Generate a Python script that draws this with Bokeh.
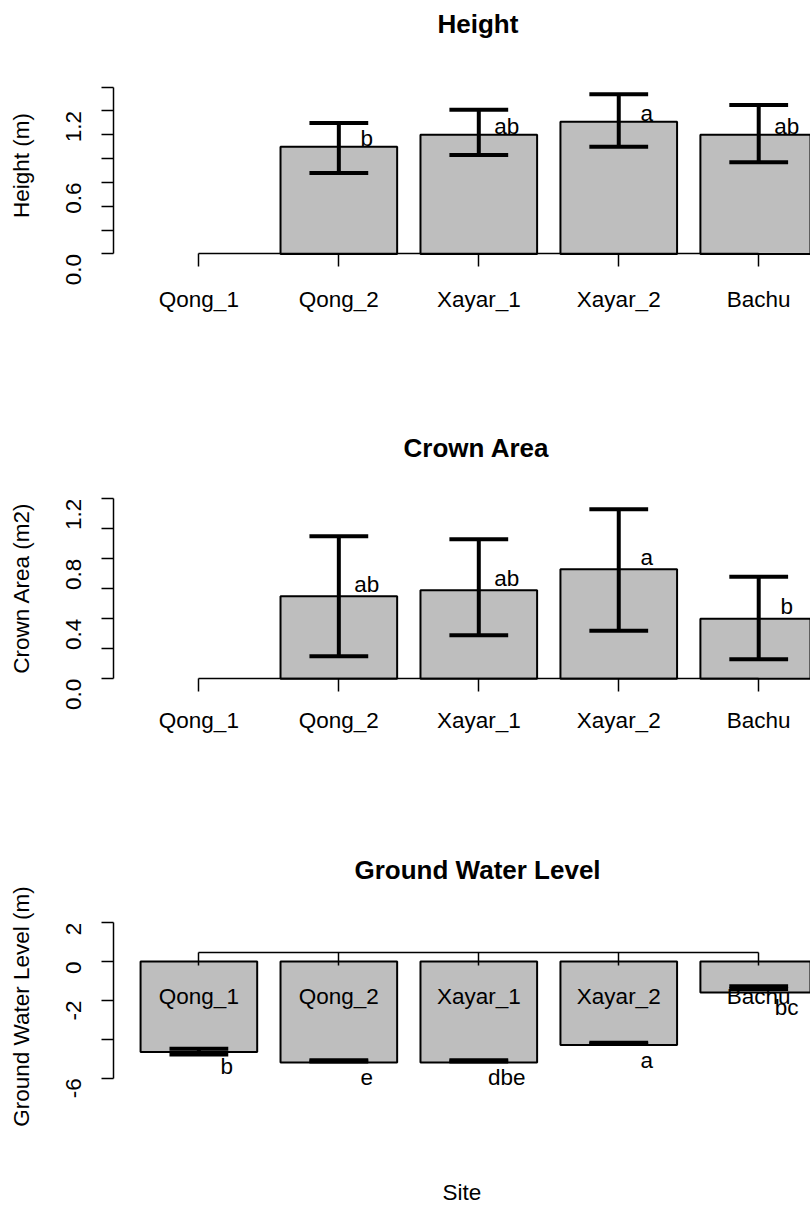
import math

from bokeh.core.properties import value
from bokeh.embed import file_html
from bokeh.layouts import column
from bokeh.models import ColumnDataSource, FixedTicker, LinearAxis, Range1d, Title
from bokeh.plotting import figure
from bokeh.resources import INLINE

# ---- data -------------------------------------------------------------
sites = ["Qong_1", "Qong_2", "Xayar_1", "Xayar_2", "Bachu"]

height_mean = [None, 0.90, 1.00, 1.11, 1.00]
height_lo = [None, 0.68, 0.83, 0.90, 0.77]
height_hi = [None, 1.10, 1.21, 1.34, 1.25]
height_grp = ["", "b", "ab", "a", "ab"]

crown_mean = [None, 0.55, 0.59, 0.73, 0.40]
crown_lo = [None, 0.15, 0.29, 0.32, 0.13]
crown_hi = [None, 0.95, 0.93, 1.13, 0.68]
crown_grp = ["", "ab", "ab", "a", "b"]

gwl_mean = [-4.65, -5.20, -5.20, -4.30, -1.60]
gwl_lo = [-4.79, -5.14, -5.14, -4.24, -1.42]
gwl_hi = [-4.49, -5.08, -5.08, -4.18, -1.28]
gwl_grp = ["b", "e", "dbe", "a", "bc"]

height_ticks = [0.0, 0.2, 0.4, 0.6, 0.8, 1.0, 1.2, 1.4]
height_tick_labels = ["0.0", "", "", "0.6", "", "", "1.2", ""]
crown_ticks = [0.0, 0.2, 0.4, 0.6, 0.8, 1.0, 1.2]
crown_tick_labels = ["0.0", "", "0.4", "", "0.8", "", "1.2"]
gwl_ticks = [-6, -4, -2, 0, 2]
gwl_tick_labels = ["-6", "", "-2", "0", "2"]

# ---- styling ----------------------------------------------------------
FONT = "Liberation Sans"
TXT = "22.5px"
TITLE_TXT = "26px"
BAR_W = 1 / 1.2          # barplot: width 1, space 0.2
CAP = 0.21               # half width of the error-bar caps
LETTER_DX = 0.2
GRAY = "#bebebe"


def style_axis(ax):
    ax.axis_line_width = 1.5
    ax.axis_line_color = "black"
    ax.major_tick_line_width = 1.5
    ax.major_tick_line_color = "black"
    ax.major_tick_in = 0
    ax.minor_tick_line_color = None
    ax.major_label_text_font = FONT
    ax.major_label_text_font_size = TXT
    ax.major_label_text_color = "black"
    ax.axis_label_text_font = FONT
    ax.axis_label_text_font_size = TXT
    ax.axis_label_text_font_style = "normal"
    ax.axis_label_text_color = "black"


def site_axis(**kw):
    pos = list(range(len(sites)))
    ax = LinearAxis(ticker=FixedTicker(ticks=pos),
                    major_label_overrides=dict(zip(pos, sites)),
                    bounds=(pos[0], pos[-1]))
    style_axis(ax)
    ax.major_tick_out = 13
    ax.major_label_standoff = 18
    for k, v in kw.items():
        setattr(ax, k, v)
    return ax


def panel(title, title_offset, ylabel, means, lo, hi, grp, yticks, ylabels,
          yr, fig_h, top, bottom, letter_dy, axis_at=0.0, names_below=True):
    p = figure(width=810, height=fig_h, x_range=Range1d(-0.61, 4.37),
               y_range=Range1d(*yr), output_backend="svg", toolbar_location=None,
               x_axis_type=None, y_axis_type=None,
               min_border_left=113, min_border_right=0,
               min_border_top=top, min_border_bottom=bottom)
    p.outline_line_color = None
    p.background_fill_color = "white"
    p.border_fill_color = "white"

    p.add_layout(Title(text=title, align="left", offset=title_offset, standoff=12,
                       text_font=FONT, text_font_size=TITLE_TXT, text_font_style="bold",
                       text_color="black"), "above")

    idx = [i for i, m in enumerate(means) if m is not None]
    m = [means[i] for i in idx]
    src = ColumnDataSource(dict(
        x=idx,
        top=[max(v, 0) for v in m],
        bottom=[min(v, 0) for v in m],
        mean=m,
        lo=[lo[i] for i in idx],
        hi=[hi[i] for i in idx],
        xl=[i - CAP for i in idx],
        xr=[i + CAP for i in idx],
        xt=[i + LETTER_DX for i in idx],
        grp=[grp[i] for i in idx],
    ))

    p.vbar(x="x", width=BAR_W, top="top", bottom="bottom", source=src,
           fill_color=GRAY, line_color="black", line_width=2)
    p.segment(x0="x", y0="lo", x1="x", y1="hi", source=src,
              line_color="black", line_width=4)
    p.segment(x0="xl", y0="lo", x1="xr", y1="lo", source=src,
              line_color="black", line_width=4)
    p.segment(x0="xl", y0="hi", x1="xr", y1="hi", source=src,
              line_color="black", line_width=4)
    p.text(x="xt", y="mean", text="grp", source=src, text_align="center",
           text_baseline="alphabetic", y_offset=letter_dy,
           text_font=value(FONT), text_font_size=TXT, text_color="black")

    yax = LinearAxis(ticker=FixedTicker(ticks=yticks),
                     major_label_overrides=dict(zip(yticks, ylabels)),
                     bounds=(min(yticks), max(yticks)), axis_label=ylabel)
    style_axis(yax)
    yax.major_tick_out = 12
    yax.major_label_orientation = math.pi / 2
    yax.major_label_standoff = 28
    yax.axis_label_standoff = 22
    p.add_layout(yax, "left")

    if names_below:
        # axis line and ticks sit on y = 0, the site names run along the frame edge
        p.add_layout(site_axis(fixed_location=axis_at, major_label_text_color=None), "below")
        p.add_layout(site_axis(axis_line_color=None, major_tick_line_color=None,
                               major_tick_out=0, major_label_standoff=0), "below")
    else:
        p.add_layout(site_axis(fixed_location=axis_at), "below")
    return p


p1 = panel("Height", 324, "Height (m)", height_mean, height_lo, height_hi, height_grp,
           height_ticks, height_tick_labels, (-0.2727, 1.7576), 400, 44, 114, -8)
p2 = panel("Crown Area", 290, "Crown Area (m2)", crown_mean, crown_lo, crown_hi,
           crown_grp, crown_ticks, crown_tick_labels, (-0.1913, 1.402), 420, 68, 113, -12)
p3 = panel("Ground Water Level", 241, "Ground Water Level (m)", gwl_mean, gwl_lo,
           gwl_hi, gwl_grp, gwl_ticks, gwl_tick_labels, (-8.283, 3.652), 387, 70, 82,
           15, axis_at=0.44, names_below=False)

site_ax = LinearAxis(ticker=FixedTicker(ticks=[]), axis_label="Site")
style_axis(site_ax)
site_ax.axis_line_color = None
site_ax.major_tick_out = 0
site_ax.major_label_standoff = 0
site_ax.axis_label_standoff = 57
p3.add_layout(site_ax, "below")

page = column(p1, p2, p3, spacing=0)
open("out.html", "w").write(file_html(page, INLINE))
